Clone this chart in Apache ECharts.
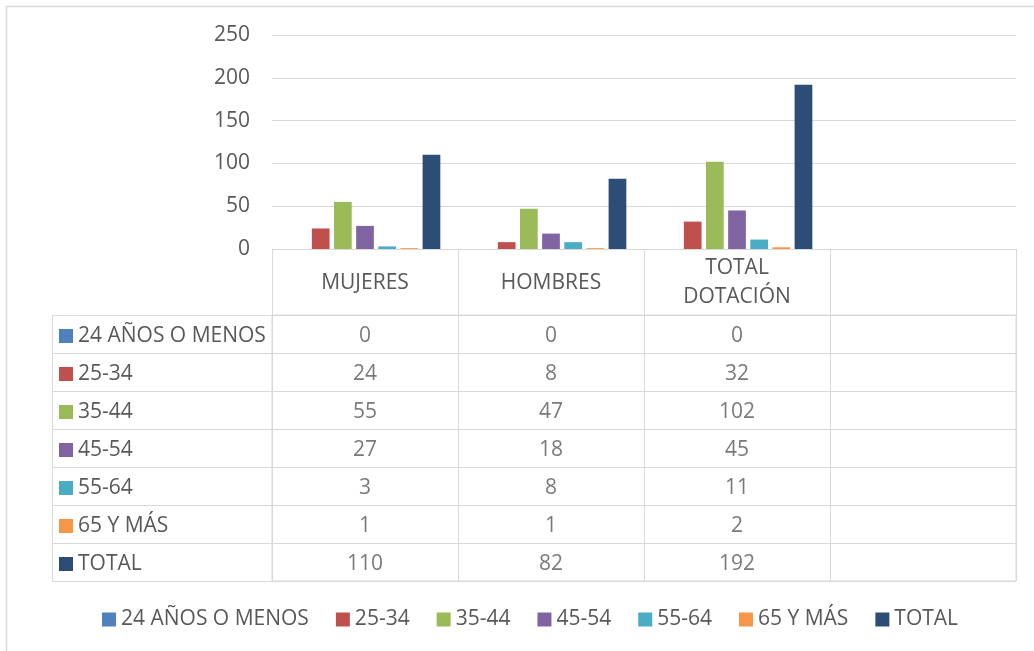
<!DOCTYPE html>
<html>
<head>
<meta charset="utf-8">
<script src="https://cdn.jsdelivr.net/npm/echarts@6/dist/echarts.min.js"></script>
<style>
  html, body { margin: 0; padding: 0; background: #fff; }
  #chart { width: 1034px; height: 651px; }
</style>
</head>
<body>
<div id="chart"></div>
<script>
// categorías del eje x (la cuarta columna está vacía)
var categories = ['MUJERES', 'HOMBRES', 'TOTAL\nDOTACIÓN', ''];
var seriesNames = ['24 AÑOS O MENOS', '25-34', '35-44', '45-54', '55-64', '65 Y MÁS', 'TOTAL'];

// valores por tramo de edad
var menos24 = [0, 0, 0, null];
var r25a34 = [24, 8, 32, null];
var r35a44 = [55, 47, 102, null];
var r45a54 = [27, 18, 45, null];
var r55a64 = [3, 8, 11, null];
var r65mas = [1, 1, 2, null];
var total = [110, 82, 192, null];

var yTicks = { min: 0, max: 250, interval: 50 };

var seriesValues = [menos24, r25a34, r35a44, r45a54, r55a64, r65mas, total];
var colors = ['#4F81BD', '#C0504D', '#9BBB59', '#8064A2', '#4BACC6', '#F79646', '#2C4D75'];

var FONT = 'Open Sans';
var FS = 21;
var TXT = '#595959';
var LINE = '#d9d9d9';

var chart = echarts.init(document.getElementById('chart'));

// series de barras
var barSeries = seriesNames.map(function (name, i) {
  return {
    name: name,
    type: 'bar',
    xAxisIndex: 0,
    yAxisIndex: 0,
    barGap: '25%',
    barCategoryGap: '19%',
    itemStyle: { color: colors[i] },
    data: seriesValues[i]
  };
});

// celdas de la tabla de datos
var cells = [];
seriesValues.forEach(function (vals, s) {
  vals.forEach(function (v, c) {
    if (v !== null) cells.push([c, s, v]);
  });
});

// cuadrado de color delante de cada fila
var rich = { t: { fontFamily: FONT, fontSize: FS, color: TXT, padding: [0, 0, 0, 5] } };
colors.forEach(function (c, i) {
  rich['s' + i] = { width: 14, height: 14, backgroundColor: c };
});

chart.setOption({
  backgroundColor: '#fff',
  textStyle: { fontFamily: FONT },
  animation: false,
  graphic: [{
    type: 'rect',
    shape: { x: 6.5, y: 6.5, width: 1100, height: 700 },
    style: { fill: 'none', stroke: LINE, lineWidth: 1.5 },
    silent: true
  }],
  legend: {
    data: seriesNames,
    left: 102,
    top: 609,
    padding: 0,
    icon: 'rect',
    itemWidth: 14,
    itemHeight: 14,
    itemGap: 27,
    textStyle: { fontFamily: FONT, fontSize: FS, color: TXT, padding: [4, 0, 0, 0] }
  },
  grid: [
    { left: 272, right: 18, top: 35, bottom: 402 },
    { left: 272, right: 18, top: 315, bottom: 70, show: true, borderColor: LINE, borderWidth: 1 }
  ],
  xAxis: [
    {
      type: 'category',
      gridIndex: 0,
      data: categories,
      axisLine: { show: true, lineStyle: { color: LINE } },
      axisTick: { show: false },
      axisLabel: { show: false }
    },
    {
      type: 'category',
      gridIndex: 1,
      data: categories,
      position: 'top',
      axisLine: { show: true, lineStyle: { color: LINE } },
      axisTick: { show: true, length: 66, interval: 0, lineStyle: { color: LINE } },
      axisLabel: {
        interval: 0,
        margin: 32,
        verticalAlign: 'middle',
        lineHeight: 29,
        fontFamily: FONT,
        fontSize: FS,
        color: TXT
      },
      splitLine: { show: true, interval: 0, lineStyle: { color: LINE } }
    }
  ],
  yAxis: [
    {
      type: 'value',
      gridIndex: 0,
      min: yTicks.min,
      max: yTicks.max,
      interval: yTicks.interval,
      axisLine: { show: false },
      axisTick: { show: false },
      axisLabel: { margin: 22, fontFamily: FONT, fontSize: FS, color: TXT, padding: [5, 0, 0, 0] },
      splitLine: { lineStyle: { color: LINE } }
    },
    {
      type: 'category',
      gridIndex: 1,
      inverse: true,
      data: seriesNames,
      axisLine: { show: true, lineStyle: { color: LINE } },
      axisTick: { show: true, length: 220, interval: 0, lineStyle: { color: LINE } },
      axisLabel: {
        interval: 0,
        align: 'left',
        margin: 213,
        padding: [4, 0, 0, 0],
        formatter: function (v, i) { return '{s' + i + '|}{t|' + v + '}'; },
        rich: rich
      },
      splitLine: { show: true, interval: 0, lineStyle: { color: LINE } }
    },
    {
      type: 'category',
      gridIndex: 1,
      inverse: true,
      data: seriesNames,
      position: 'left',
      offset: 220,
      axisLine: { show: true, lineStyle: { color: LINE } },
      axisTick: { show: false },
      axisLabel: { show: false },
      splitLine: { show: false }
    }
  ],
  series: barSeries.concat([{
    name: 'tabla',
    type: 'scatter',
    xAxisIndex: 1,
    yAxisIndex: 1,
    symbolSize: 0,
    silent: true,
    label: {
      show: true,
      position: 'inside',
      offset: [0, 2],
      fontFamily: FONT,
      fontSize: FS,
      color: TXT,
      formatter: function (p) { return String(p.value[2]); }
    },
    data: cells
  }])
});
</script>
</body>
</html>
